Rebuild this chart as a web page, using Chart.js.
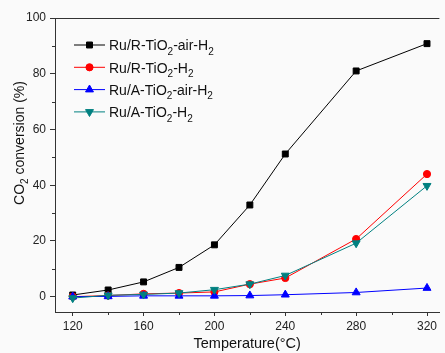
<!DOCTYPE html>
<html><head><meta charset="utf-8">
<script src="https://cdn.jsdelivr.net/npm/chart.js@4/dist/chart.umd.min.js"></script>
<style>html,body{margin:0;padding:0;background:#fafafa;}canvas{display:block;}</style>
</head><body>
<canvas id="c" width="445" height="353"></canvas>
<script>
const temperatures = [120, 140, 160, 180, 200, 220, 240, 280, 320];
const ruRAirH2 = [0.6, 2.4, 5.3, 10.5, 18.6, 32.9, 51.2, 81.0, 90.8];
const ruRH2 = [0.0, 0.4, 1.0, 1.3, 1.7, 4.5, 6.7, 20.7, 44.0];
const ruAAirH2 = [0.0, 0.1, 0.3, 0.3, 0.3, 0.4, 0.7, 1.5, 3.1];
const ruAH2 = [-0.5, 0.5, 0.8, 1.3, 2.5, 4.5, 7.6, 19.2, 39.8];
const xMajorTicks = [120, 160, 200, 240, 280, 320];
const xMinorTicks = [140, 180, 220, 260, 300];
const yMajorTicks = [0, 20, 40, 60, 80, 100];
const yMinorTicks = [10, 30, 50, 70, 90];
const seriesNames = ['Ru/R-TiO_2-air-H_2', 'Ru/R-TiO_2-H_2', 'Ru/A-TiO_2-air-H_2', 'Ru/A-TiO_2-H_2'];
const yTitle = 'CO_2 conversion (%)';
const xTitle = 'Temperature(°C)';

const FONT = '"Liberation Sans", Arial, sans-serif';

function pts(vals){ return temperatures.map((t,i)=>({x:t,y:vals[i]})); }

function drawRich(ctx, text, x, y, size, align, subSize, subOff){
  const parts = [];
  const re = /_(.)/g; let last = 0, m;
  while((m = re.exec(text))){ if(m.index>last) parts.push({t:text.slice(last,m.index),s:false}); parts.push({t:m[1],s:true}); last = re.lastIndex; }
  if(last<text.length) parts.push({t:text.slice(last),s:false});
  let w = 0;
  parts.forEach(p=>{ ctx.font = (p.s?subSize:size)+'px '+FONT; p.w = ctx.measureText(p.t).width; w += p.w; });
  let cx = align==='center' ? x - w/2 : x;
  ctx.textBaseline = 'middle'; ctx.textAlign = 'left';
  parts.forEach(p=>{ ctx.font = (p.s?subSize:size)+'px '+FONT; ctx.fillText(p.t, cx, p.s ? y + subOff : y); cx += p.w; });
}

const deco = {
  id:'deco',
  afterDraw(chart){
    const ctx = chart.ctx, a = chart.chartArea, xs = chart.scales.x, ys = chart.scales.y;
    ctx.save();
    ctx.strokeStyle = '#333'; ctx.lineWidth = 1;
    ctx.beginPath(); ctx.moveTo(a.left, a.top+0.5); ctx.lineTo(a.right, a.top+0.5); ctx.stroke();
    ctx.beginPath();
    xMinorTicks.forEach(v=>{ const px = Math.round(xs.getPixelForValue(v))+0.5; ctx.moveTo(px, a.bottom); ctx.lineTo(px, a.bottom+3); });
    yMinorTicks.forEach(v=>{ const py = Math.round(ys.getPixelForValue(v))+0.5; ctx.moveTo(a.left, py); ctx.lineTo(a.left-3, py); });
    ctx.stroke();
    ctx.fillStyle = '#111';
    drawRich(ctx, xTitle, (a.left+a.right)/2, 344, 14.5, 'center', 10, 5);
    ctx.save(); ctx.translate(20, 143); ctx.rotate(-Math.PI/2);
    drawRich(ctx, yTitle, 0, 0, 14, 'center', 10, 5);
    ctx.restore();
    chart.data.datasets.forEach((ds,i)=>{
      const y = 45 + i*22.3;
      ctx.strokeStyle = ds.borderColor; ctx.lineWidth = 1;
      ctx.beginPath(); ctx.moveTo(74, y); ctx.lineTo(105, y); ctx.stroke();
      ctx.fillStyle = ds.pointBackgroundColor; ctx.strokeStyle = ds.pointBackgroundColor;
      Chart.helpers.drawPoint(ctx, {pointStyle: ds.pointStyle, rotation: ds.pointRotation||0, radius: ds.pointRadius, borderWidth: 1}, 89.5, y);
      ctx.fillStyle = '#111';
      drawRich(ctx, seriesNames[i], 109, y+1.5, 14, 'left', 10, 5.5);
    });
    ctx.restore();
  }
};

function mk(label, vals, color, style, rot, r, order){
  return {label, data: pts(vals), borderColor: color, backgroundColor: color, pointBackgroundColor: color, pointBorderColor: color,
    pointStyle: style, pointRotation: rot, pointRadius: r, pointBorderWidth: 1, borderWidth: 1, tension: 0, order, clip: false};
}

new Chart(document.getElementById('c'), {
  type: 'line',
  data: { datasets: [
    mk(seriesNames[0], ruRAirH2, '#000000', 'rect', 0, 4.2, 3),
    mk(seriesNames[1], ruRH2, '#ff0000', 'circle', 0, 3.6, 2),
    mk(seriesNames[2], ruAAirH2, '#0000ff', 'triangle', 0, 4.6, 1),
    mk(seriesNames[3], ruAH2, '#008080', 'triangle', 180, 4.6, 0)
  ]},
  options: {
    responsive: false, animation: false, events: [],
    layout: { padding: { top: 18, right: 0, left: 0, bottom: 0 } },
    plugins: { legend: { display: false }, tooltip: { enabled: false } },
    scales: {
      x: { type: 'linear', min: 110, max: 327,
        afterBuildTicks: s => { s.ticks = xMajorTicks.map(v=>({value:v})); },
        afterFit: s => { s.height = 41; },
        grid: { display: true, drawOnChartArea: false, drawTicks: true, tickLength: 4, tickColor: '#333' },
        border: { display: true, color: '#333', width: 1 },
        ticks: { padding: 3, color: '#222', font: { family: FONT, size: 12 }, maxRotation: 0, autoSkip: false }
      },
      y: { type: 'linear', min: -5.5, max: 100,
        afterBuildTicks: s => { s.ticks = yMajorTicks.map(v=>({value:v})); },
        afterFit: s => { s.width = 55; },
        grid: { display: true, drawOnChartArea: false, drawTicks: true, tickLength: 5, tickColor: '#333' },
        border: { display: true, color: '#333', width: 1 },
        ticks: { padding: 4, color: '#222', font: { family: FONT, size: 12 } }
      }
    }
  },
  plugins: [deco]
});
</script>
</body></html>
